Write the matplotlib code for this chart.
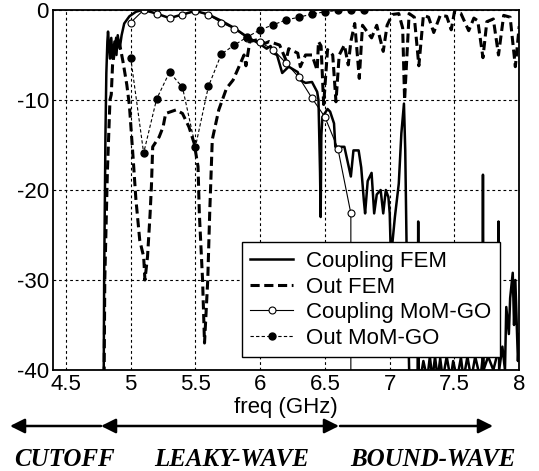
#!/usr/bin/env python3
"""
Coupling / output level vs frequency, FEM against MoM-GO
"""

import matplotlib
matplotlib.use("Agg")
import matplotlib.pyplot as plt

# Coupling FEM (thick solid)
cfem_f = [4.40, 4.786, 4.795, 4.805, 4.812, 4.82, 4.825, 4.84, 4.85, 4.86, 4.875,
          4.89, 4.90, 4.915, 4.93, 4.95, 4.99, 5.04, 5.09, 5.15, 5.20, 5.30, 5.40,
          5.50, 5.60, 5.70, 5.80, 5.90, 6.00, 6.05, 6.08, 6.10, 6.13, 6.17, 6.22,
          6.29, 6.31, 6.35, 6.40, 6.44, 6.45, 6.462, 6.467, 6.472, 6.48, 6.52,
          6.54, 6.57, 6.58, 6.65, 6.70, 6.72, 6.76, 6.78, 6.80, 6.81, 6.83, 6.86,
          6.88, 6.90, 6.93, 6.95, 6.97, 6.99, 7.00, 7.01, 7.02, 7.04, 7.07, 7.09,
          7.11, 7.12, 7.13, 7.15, 7.18, 7.215, 7.22, 7.225, 7.26, 7.29, 7.31,
          7.33, 7.35, 7.37, 7.39, 7.41, 7.44, 7.47, 7.49, 7.52, 7.55, 7.57, 7.60,
          7.63, 7.66, 7.70, 7.715, 7.72, 7.725, 7.76, 7.80, 7.835, 7.84, 7.845,
          7.87, 7.89, 7.90, 7.92, 7.93, 7.95, 7.96, 7.97, 7.99, 8.00]
cfem_db = [-60, -60, -30, -14, -7, -3.5, -2.4, -5.4, -3.1, -5.4, -3.5,
           -5.0, -2.8, -4.3, -2.8, -1.5, -0.7, -0.2, 0.0, -0.2, -0.4, -0.9, -0.5,
           -0.1, -0.5, -1.2, -2.0, -3.0, -3.8, -4.3, -4.0, -4.8, -5.0, -7.0, -6.3,
           -6.9, -7.8, -8.1, -8.0, -9.1, -10.0, -18.0, -23.0, -14.0, -11.9, -11.0,
           -11.3, -12.6, -15.2, -15.2, -18.5, -15.6, -15.6, -17.5, -21.1, -22.6, -19.0, -18.1,
           -22.6, -20.5, -20.0, -22.6, -20.0, -20.8, -22.6, -28.0, -26.0, -23.0, -19.3, -13.7,
           -10.4, -15.6, -26.0, -40.0, -41.0, -42.0, -23.5, -42.0, -39.0, -41.0, -38.5,
           -41.0, -38.5, -41.0, -38.7, -41.0, -38.5, -41.0, -39.0, -41.0, -38.6, -41.0, -38.5,
           -41.0, -38.5, -41.0, -39.0, -18.3, -40.0, -38.5, -40.0, -38.0, -23.5, -40.0,
           -37.4, -40.0, -33.0, -36.0, -32.0, -29.2, -35.0, -30.0, -39.0, -36.0]

# Out FEM (thick dashed)
ofem_f = [4.40, 4.786, 4.80, 4.82, 4.84, 4.85, 4.86, 4.875, 4.89, 4.90, 4.92,
          4.94, 4.97, 4.99, 5.02, 5.04, 5.07, 5.10, 5.11, 5.13, 5.15, 5.16, 5.17,
          5.22, 5.25, 5.27, 5.35, 5.40, 5.45, 5.49, 5.52, 5.53, 5.555, 5.57,
          5.595, 5.61, 5.63, 5.68, 5.74, 5.79, 5.83, 5.86, 5.875, 5.89, 5.92,
          5.98, 6.04, 6.07, 6.15, 6.20, 6.22, 6.29, 6.31, 6.35, 6.40, 6.44, 6.45,
          6.47, 6.49, 6.52, 6.56, 6.585, 6.61, 6.65, 6.68, 6.70, 6.73, 6.765,
          6.79, 6.83, 6.86, 6.90, 6.95, 6.98, 7.02, 7.07, 7.10, 7.115, 7.15,
          7.19, 7.225, 7.26, 7.30, 7.34, 7.39, 7.44, 7.475, 7.50, 7.55, 7.61,
          7.65, 7.68, 7.72, 7.75, 7.80, 7.84, 7.88, 7.93, 7.97, 8.00]
ofem_db = [-60, -60, -30, -18, -10.0, -9.4, -6.1, -4.6, -3.1, -3.0, -4.2,
           -5.7, -8.3, -10.6, -16.7, -21.0, -25.6, -27.4, -30.0, -27.4, -22.6, -19.6, -15.2,
           -14.1, -13.0, -11.5, -11.1, -11.5, -13.0, -14.8, -17.4, -22.6, -30.0, -37.0,
           -30.0, -22.6, -14.4, -11.1, -8.7, -7.8, -6.5, -5.5, -5.0, -6.2, -3.5,
           -3.3, -3.7, -3.5, -3.9, -5.6, -4.3, -4.8, -6.3, -5.0, -5.0, -6.7, -3.5,
           -4.0, -10.5, -4.4, -5.0, -10.2, -5.0, -3.9, -6.1, -3.5, -1.5, -7.6,
           -1.7, -2.5, -3.1, -1.7, -4.6, -1.7, -0.5, -0.4, -2.0, -10.0, -0.4,
           -0.8, -6.2, -0.6, -0.8, -2.5, -0.6, -0.7, -2.2, -0.2, -0.4, -2.3,
           -0.9, -1.2, -5.3, -1.3, -1.0, -5.0, -0.6, -0.8, -6.3, -1.8]

# Coupling MoM-GO (thin solid, open circles); last point is off the axes
cmom_f = [5.0, 5.1, 5.2, 5.3, 5.4, 5.5, 5.6, 5.7, 5.8, 5.9, 6.0, 6.1, 6.2,
          6.3, 6.4, 6.5, 6.6, 6.7, 6.7]
cmom_db = [-1.4, 0.0, -0.4, -0.9, -0.55, -0.1, -0.55, -1.4, -2.1, -3.1, -3.6,
           -4.4, -5.9, -7.5, -9.8, -11.9, -15.4, -22.6, -60]

# Out MoM-GO (thin dashed, filled circles)
omom_f = [5.0, 5.1, 5.2, 5.3, 5.4, 5.5, 5.6, 5.7, 5.8, 5.9, 6.0, 6.1, 6.2,
          6.3, 6.4, 6.5, 6.6, 6.7, 6.8]
omom_db = [-5.3, -15.9, -9.9, -6.9, -8.6, -15.2, -8.5, -4.9, -3.9, -3.0, -2.2,
           -1.65, -1.1, -0.8, -0.45, -0.2, -0.05, 0.0, 0.0]

xticks = [4.5, 5, 5.5, 6, 6.5, 7, 7.5, 8]
xtick_labels = ['4.5', '5', '5.5', '6', '6.5', '7', '7.5', '8']
yticks = [0, -10, -20, -30, -40]
regions = ['CUTOFF', 'LEAKY-WAVE', 'BOUND-WAVE']

plt.rcParams['font.family'] = ['Liberation Sans', 'DejaVu Sans']
plt.rcParams['axes.unicode_minus'] = False

fig = plt.figure(figsize=(5.39, 4.71), dpi=100)
ax = fig.add_axes([0.0983, 0.2144, 0.865, 0.7644])

ax.plot(cfem_f, cfem_db, color='black', lw=1.8, label='Coupling FEM')
ax.plot(ofem_f, ofem_db, color='black', lw=2.2, linestyle=(0, (3.0, 1.5)),
        label='Out FEM')
ax.plot(cmom_f, cmom_db, color='black', lw=0.8, marker='o', ms=5,
        mfc='white', mec='black', mew=0.8, markevery=list(range(len(cmom_f) - 1)),
        label='Coupling MoM-GO')
ax.plot(omom_f, omom_db, color='black', lw=0.8, linestyle=(0, (3, 2)),
        marker='o', ms=5, mfc='black', mec='black', label='Out MoM-GO')

ax.set_xlim(4.4, 8.0)
ax.set_ylim(-40, 0)
ax.set_xticks(xticks)
ax.set_xticklabels(xtick_labels)
ax.set_yticks(yticks)
ax.tick_params(direction='in', length=0, labelsize=16, pad=3)
ax.grid(True, color='black', linestyle=(0, (2.5, 2.5)), lw=0.8)
for sp in ax.spines.values():
    sp.set_linewidth(1.3)
ax.set_xlabel('freq (GHz)', fontsize=16, labelpad=1)

leg = ax.legend(loc='lower right', bbox_to_anchor=(0.959, 0.035), fontsize=16,
                handlelength=1.9, handletextpad=0.6, labelspacing=0.2,
                borderpad=0.4, borderaxespad=0, fancybox=False, framealpha=1)
leg.get_frame().set_edgecolor('black')
leg.get_frame().set_linewidth(1.0)

# Region arrows below the axis (figure pixels, origin bottom-left)
arrow_y = 45
arrow_kw = dict(arrowstyle='-|>', color='black', lw=1.8, mutation_scale=22,
                shrinkA=0, shrinkB=0)
ax.annotate('', xy=(10, arrow_y), xytext=(101, arrow_y), xycoords='figure pixels',
            textcoords='figure pixels', arrowprops=arrow_kw, annotation_clip=False)
ax.annotate('', xy=(101, arrow_y), xytext=(339, arrow_y), xycoords='figure pixels',
            textcoords='figure pixels', annotation_clip=False,
            arrowprops=dict(arrow_kw, arrowstyle='<|-|>'))
ax.annotate('', xy=(493, arrow_y), xytext=(340, arrow_y), xycoords='figure pixels',
            textcoords='figure pixels', arrowprops=arrow_kw, annotation_clip=False)

label_x = [64, 232, 433]
for lx, txt in zip(label_x, regions):
    fig.text(lx / 539, 12 / 471, txt, ha='center', va='center', fontsize=18,
             family='Liberation Serif', weight='bold', style='italic')

fig.savefig('out.png', dpi=100)
